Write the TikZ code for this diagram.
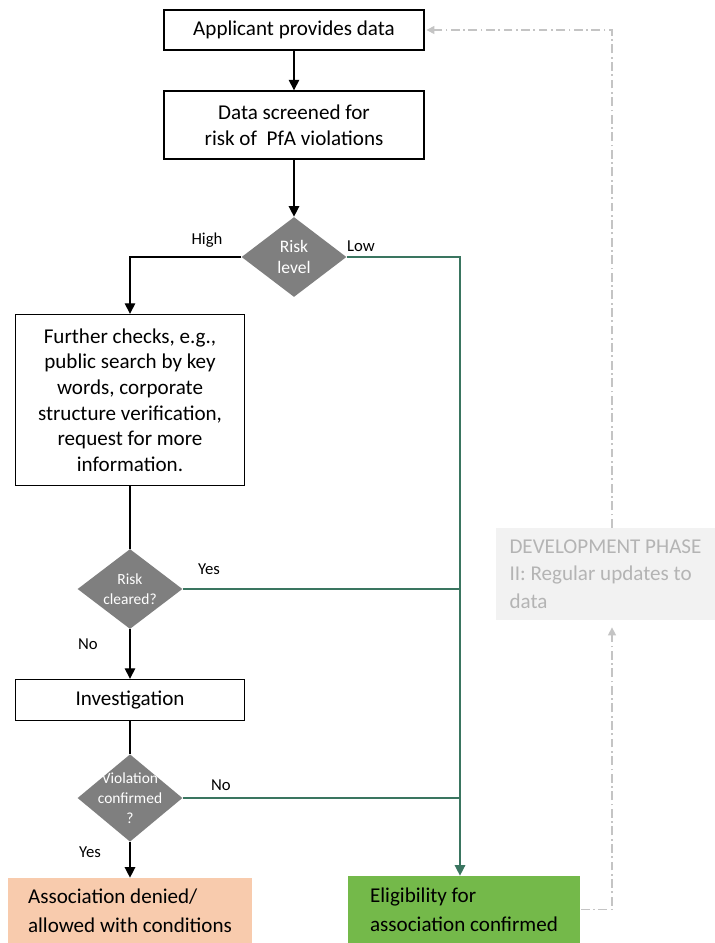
\documentclass[tikz,border=0pt]{standalone}
\usepackage{fontspec}
\setmainfont{Carlito}
\usetikzlibrary{shapes.geometric,arrows.meta}
\definecolor{riskgray}{HTML}{7F7F7F}
\definecolor{peach}{HTML}{F8CBAD}
\definecolor{okgreen}{HTML}{74B94A}
\definecolor{lowline}{HTML}{3A7560}
\definecolor{devfill}{HTML}{F2F2F2}
\definecolor{devtext}{HTML}{B4B4B4}
\definecolor{devline}{HTML}{C4C4C4}
\begin{document}
\begin{tikzpicture}[x=0.02cm,y=-0.02cm,
	box/.style={draw,line width=0.8pt,align=center,inner sep=0pt,font=\fontsize{12}{14.6}\selectfont},
	decide/.style={diamond,fill=riskgray,text=white,align=center,inner sep=-4pt,minimum width=2.1cm,minimum height=1.6cm,font=\fontsize{8.8}{11.5}\selectfont},
	tag/.style={font=\fontsize{9.5}{11}\selectfont},
	outcome/.style={align=left,inner sep=0pt,font=\fontsize{12}{16.5}\selectfont},
	arr/.style={-{Triangle[length=6pt,width=6pt]}},
	arrsmall/.style={-{Triangle[length=4.5pt,width=4.5pt]}},
	flow/.style={line width=0.8pt},
	lowpath/.style={lowline,line width=0.8pt},
	update/.style={devline,line width=0.8pt,dash pattern=on 5pt off 2pt on 1pt off 2pt}]
	\useasboundingbox (0,0) rectangle (715,943);
	\node[box,minimum width=5.2cm,minimum height=0.8cm] (apply) at (294,30) {Applicant provides data};
	\node[box,minimum width=5.2cm,minimum height=1.36cm] (screen) at (294,125) {Data screened for\\risk of \ PfA violations};
	\node[decide,font=\fontsize{10}{12}\selectfont] (risk) at (294,257) {Risk\\level};
	\node[box,minimum width=4.58cm,minimum height=3.42cm] (checks) at (130,400) {Further checks, e.g.,\\public search by key\\words, corporate\\structure verification,\\request for more\\information.};
	\node[decide] (cleared) at (130,589) {Risk\\cleared?};
	\node[box,minimum width=4.58cm,minimum height=0.82cm] (invest) at (130,700) {Investigation};
	\node[decide] (violation) at (130,798) {Violation\\confirmed\\?};
	\node[outcome,fill=peach,minimum width=4.88cm,minimum height=1.3cm] (denied) at (130,910.5) {Association denied/\\allowed with conditions};
	\node[outcome,fill=okgreen,minimum width=4.66cm,minimum height=1.34cm] (elig) at (464,909.5) {Eligibility for\\association confirmed};
	\node[outcome,fill=devfill,text=devtext,minimum width=4.38cm,minimum height=1.84cm,font=\fontsize{12}{15.6}\selectfont] (dev) at (605.5,574) {DEVELOPMENT PHASE\\II: Regular updates to\\data};
	\node[tag] (high) at (207,240) {High};
	\node[tag] (low) at (361,246) {Low};
	\node[tag] (yescleared) at (209,569) {Yes};
	\node[tag] (nocleared) at (88,644) {No};
	\node[tag] (noviolation) at (221,785) {No};
	\node[tag] (yesviolation) at (90,852) {Yes};
	\coordinate (trunk) at (460,257);
	\coordinate (loop) at (612,30);
	\draw[flow,arr] (apply) -- (screen);
	\draw[flow,arr] (screen) -- (risk);
	\draw[flow,arr] (risk.west) -| (checks.north);
	\draw[flow] (checks) -- (cleared);
	\draw[flow,arr] (cleared) -- (invest);
	\draw[flow] (invest) -- (violation);
	\draw[flow,arr] (violation) -- (denied);
	\draw[lowpath,arr] (risk.east) -| (trunk |- elig.north);
	\draw[lowpath] (cleared.east) -- (cleared.east -| trunk);
	\draw[lowpath] (violation.east) -- (violation.east -| trunk);
	\draw[update,arrsmall,shorten >=4pt] (elig.east) -| (loop |- dev.south);
	\draw[update,arrsmall,shorten >=1pt] (loop |- dev.north) -- (loop) -- (apply.east);
\end{tikzpicture}
\end{document}
